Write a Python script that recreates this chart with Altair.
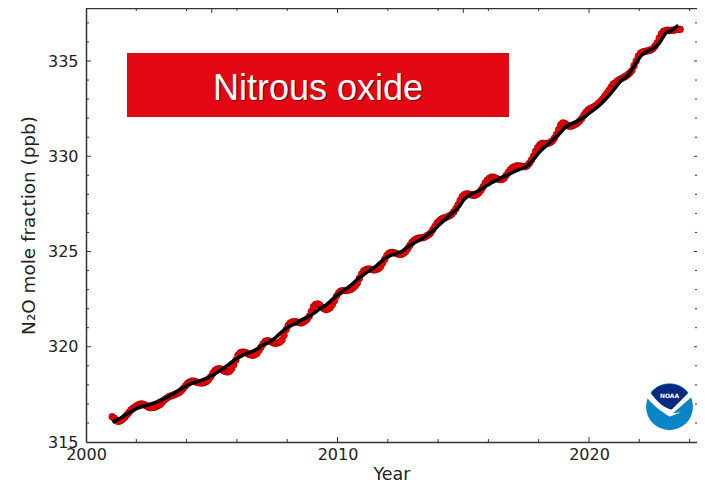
import altair as alt
import pandas as pd

monthly_by_year = {
    2001: [316.33,316.25,316.12,316.08,316.12,316.2,316.3,316.42,316.55,316.68,316.78,316.85],
    2002: [316.92,316.98,317.0,316.98,316.92,316.85,316.8,316.8,316.82,316.86,316.92,316.98],
    2003: [317.1,317.22,317.3,317.38,317.42,317.45,317.5,317.55,317.6,317.7,317.82,317.95],
    2004: [318.08,318.15,318.2,318.2,318.15,318.12,318.1,318.1,318.12,318.18,318.28,318.42],
    2005: [318.6,318.75,318.82,318.85,318.82,318.75,318.7,318.68,318.72,318.85,319.05,319.3],
    2006: [319.55,319.68,319.72,319.72,319.68,319.62,319.58,319.55,319.58,319.65,319.8,319.98],
    2007: [320.15,320.28,320.32,320.3,320.25,320.2,320.18,320.2,320.25,320.35,320.6,320.9],
    2008: [321.12,321.25,321.3,321.32,321.3,321.28,321.25,321.28,321.35,321.45,321.6,321.85],
    2009: [322.1,322.22,322.25,322.2,322.08,322.0,321.95,321.98,322.05,322.2,322.4,322.65],
    2010: [322.82,322.92,322.95,322.95,322.95,322.98,323.02,323.1,323.2,323.35,323.6,323.82],
    2011: [323.98,324.05,324.08,324.08,324.05,324.03,324.05,324.1,324.2,324.38,324.58,324.78],
    2012: [324.9,324.95,324.95,324.92,324.88,324.85,324.85,324.9,325.0,325.15,325.32,325.48],
    2013: [325.58,325.65,325.7,325.72,325.72,325.75,325.82,325.88,325.98,326.15,326.32,326.5],
    2014: [326.6,326.7,326.75,326.78,326.82,326.88,326.95,327.08,327.25,327.45,327.68,327.88],
    2015: [327.98,328.02,328.02,327.98,327.95,327.95,328.0,328.08,328.22,328.4,328.6,328.75],
    2016: [328.85,328.9,328.9,328.85,328.8,328.78,328.78,328.85,329.0,329.15,329.3,329.4],
    2017: [329.45,329.5,329.5,329.48,329.45,329.45,329.5,329.62,329.8,330.0,330.25,330.45],
    2018: [330.6,330.68,330.68,330.65,330.68,330.72,330.8,330.95,331.15,331.4,331.65,331.75],
    2019: [331.72,331.65,331.58,331.58,331.62,331.68,331.75,331.85,331.98,332.15,332.3,332.42],
    2020: [332.5,332.55,332.6,332.68,332.78,332.88,333.0,333.15,333.3,333.45,333.62,333.78],
    2021: [333.85,333.95,334.02,334.08,334.14,334.2,334.28,334.38,334.5,334.75,335.0,335.25],
    2022: [335.4,335.47,335.5,335.52,335.55,335.58,335.65,335.78,335.95,336.2,336.42,336.55],
    2023: [336.6,336.62,336.6,336.62,336.62,336.65,336.66,336.66],
}
trend_by_year = {
    2001: [316.05,316.2,316.4,316.6],
    2002: [316.78,316.88,316.98,317.1],
    2003: [317.25,317.42,317.6,317.8],
    2004: [317.98,318.12,318.22,318.35],
    2005: [318.52,318.72,318.95,319.2],
    2006: [319.42,319.6,319.72,319.88],
    2007: [320.1,320.25,320.5,320.8],
    2008: [321.05,321.2,321.4,321.55],
    2009: [321.75,322.0,322.2,322.5],
    2010: [322.78,323.0,323.25,323.55],
    2011: [323.8,324.02,324.25,324.55],
    2012: [324.75,324.88,325.0,325.25],
    2013: [325.45,325.62,325.85,326.1],
    2014: [326.4,326.7,327.0,327.3],
    2015: [327.75,328.0,328.15,328.35],
    2016: [328.55,328.72,328.9,329.05],
    2017: [329.2,329.35,329.5,329.85],
    2018: [330.25,330.55,330.85,331.15],
    2019: [331.5,331.7,331.85,332.05],
    2020: [332.3,332.55,332.85,333.2],
    2021: [333.6,334.0,334.25,334.75],
    2022: [335.25,335.5,335.65,335.95],
    2023: [336.45,336.62,336.87],
}
x_labels = [2000, 2010, 2020]
y_labels = [315, 320, 325, 330, 335]
bottom_minor = [2002,2004,2006,2008,2012,2014,2016,2018,2022,2024]
bottom_major = [2010,2020]
top_minor = [2002,2004,2006,2008,2012,2014,2016,2018,2022,2024]
top_major = [2005,2010,2015,2020]
y_minor = [316,317,318,319,321,322,323,324,326,327,328,329,331,332,333,334,336,337]
y_major = [320,325,330,335]

W, H = 611, 434
INK = "#333333"
FONT = "DejaVu Sans"

rows_m = [{"t": y + (m + 0.5) / 12, "v": v} for y, vs in monthly_by_year.items() for m, v in enumerate(vs)]
rows_t = [{"t": y + 0.25 * q + 0.05, "v": v} for y, vs in trend_by_year.items() for q, v in enumerate(vs)]

xs = alt.Scale(domain=[2000, 2000 + W / 25.15], nice=False, zero=False)
ys = alt.Scale(domain=[315, 315 + H / 19.05], nice=False, zero=False)
X = alt.X("t:Q", scale=xs, title="Year",
          axis=alt.Axis(values=x_labels, format="d", ticks=False, grid=False, domainColor=INK, domainWidth=1.5,
                        labelFont=FONT, labelFontSize=16, labelColor="#222222", labelPadding=4, labelFlush=False,
                        titleFont=FONT, titleFontSize=17.5, titleFontWeight="normal", titleColor="#222222", titlePadding=3))
Y = alt.Y("v:Q", scale=ys, title="N₂O mole fraction (ppb)",
          axis=alt.Axis(values=y_labels, format="d", ticks=False, grid=False, domainColor=INK, domainWidth=1.5,
                        labelFont=FONT, labelFontSize=16, labelColor="#222222", labelPadding=8, labelFlush=False,
                        titleFont=FONT, titleFontSize=18.4, titleFontWeight="normal", titleColor="#222222", titlePadding=9))

def vticks(values, y1, y2):
    return alt.Chart(pd.DataFrame({"t": values})).mark_rule(color=INK, strokeWidth=1).encode(
        x=X, y=alt.value(y1), y2=alt.value(y2))

def hticks(values, x1, x2):
    return alt.Chart(pd.DataFrame({"v": values})).mark_rule(color=INK, strokeWidth=1).encode(
        y=Y, x=alt.value(x1), x2=alt.value(x2))

points = alt.Chart(pd.DataFrame(rows_m)).mark_point(
    filled=True, shape="circle", size=46, color="#ee0000", stroke="#7a0000", strokeWidth=0.5, opacity=1
).encode(x=X, y=Y)
line = alt.Chart(pd.DataFrame(rows_t)).mark_line(color="black", strokeWidth=3.5, interpolate="monotone").encode(
    x=X, y=Y)

top_spine = alt.Chart(pd.DataFrame({"a": [0]})).mark_rule(color=INK, strokeWidth=1.5).encode(
    x=alt.value(0), x2=alt.value(W), y=alt.value(0.5))

banner = alt.Chart(pd.DataFrame({"a": [0]})).mark_rect(color="#e30613").encode(
    x=alt.value(41), x2=alt.value(423), y=alt.value(45), y2=alt.value(109))
label_df = pd.DataFrame({"s": ["Nitrous oxide"]})
shadow = alt.Chart(label_df).mark_text(font="Liberation Sans", fontSize=36, color="#7a0008", align="center", baseline="alphabetic").encode(
    text="s:N", x=alt.value(233), y=alt.value(93))
label = alt.Chart(label_df).mark_text(font="Liberation Sans", fontSize=36, color="white", align="center", baseline="alphabetic").encode(
    text="s:N", x=alt.value(232), y=alt.value(92))

LX, LY = 583.5, 398.7
def logo(shape, color):
    return alt.Chart(pd.DataFrame({"a": [0]})).mark_point(filled=True, shape=shape, size=2200, color=color, opacity=1, strokeWidth=0).encode(
        x=alt.value(LX), y=alt.value(LY))
logo_blue = logo("circle", "#0a85c8")
logo_white = logo("M-1,-0.42 C-0.7,-0.05 -0.35,0.2 -0.1,0.36 L0.02,0.42 L0.5,0.24 L0.15,0.28 L0.95,-0.42 L0.8,-0.62 L-0.8,-0.62 Z", "white")
logo_navy = logo("M-0.8,-0.58 C-0.4,-1.1 0.4,-1.1 0.8,-0.58 L0.1,0.12 C-0.2,0.1 -0.55,-0.22 -0.8,-0.58 Z", "#0a2a80")
logo_text = alt.Chart(pd.DataFrame({"s": ["NOAA"]})).mark_text(font="DejaVu Sans", fontSize=6, fontWeight="bold", color="white", align="center", baseline="middle").encode(
    text="s:N", x=alt.value(LX), y=alt.value(LY - 10.5))

chart = alt.layer(
    points, line,
    top_spine,
    vticks(bottom_minor, H - 3, H), vticks(bottom_major, H - 5, H),
    vticks(top_minor, 0, 3), vticks(top_major, 0, 5),
    hticks(y_minor, 0, 3), hticks(y_major, 0, 5),
    hticks(y_minor, W - 2, W), hticks(y_major, W - 3, W),
    banner, shadow, label,
    logo_blue, logo_white, logo_navy, logo_text,
).properties(
    width=W, height=H,
    padding={"left": 78, "top": 0, "right": 0, "bottom": 41},
    autosize=alt.AutoSizeParams(type="none"),
).configure_view(stroke=None).configure(background="white")

chart.save("out.html", embed_options={"renderer": "svg", "actions": False})
